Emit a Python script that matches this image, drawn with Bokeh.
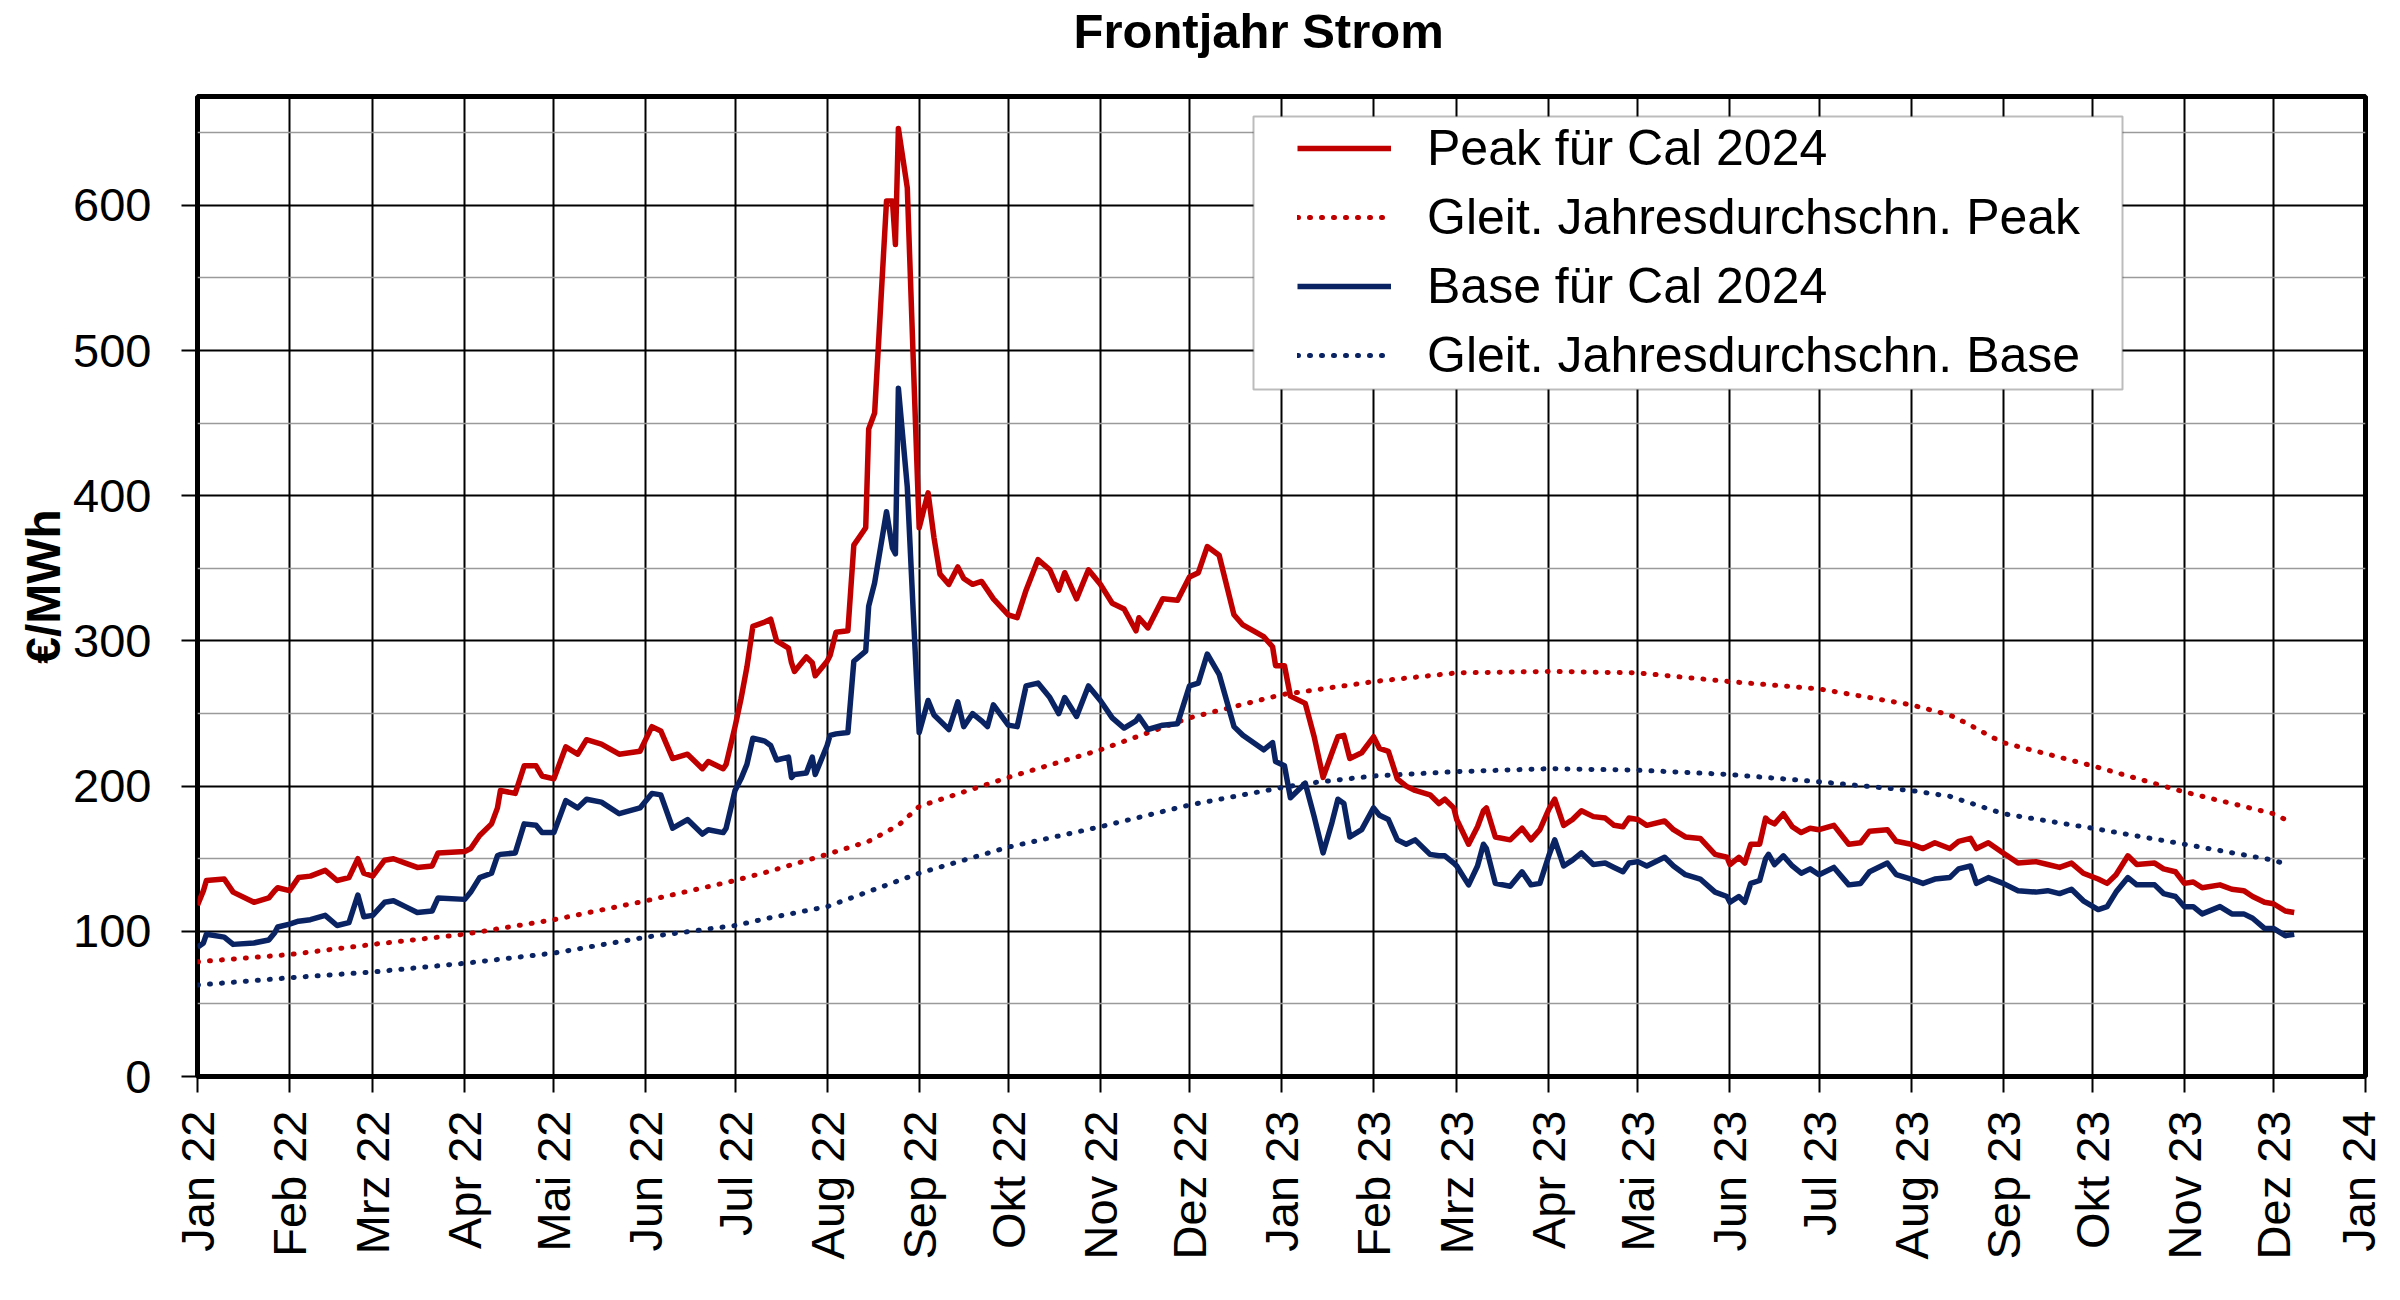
import math
import pandas as pd
from bokeh.plotting import figure
from bokeh.models import (FixedTicker, Legend, LegendItem, BoxAnnotation,
                          Range1d, ColumnDataSource)
from bokeh.embed import file_html
from bokeh.resources import INLINE

FONT = "Liberation Sans"
RED = "#C00000"
BLUE = "#0A2463"

# ---------------- data ----------------
title_text = "Frontjahr Strom"
y_label = "€/MWh"

month_ticks = ["2022-01-01", "2022-02-01", "2022-03-01", "2022-04-01", "2022-05-01",
               "2022-06-01", "2022-07-01", "2022-08-01", "2022-09-01", "2022-10-01",
               "2022-11-01", "2022-12-01", "2023-01-01", "2023-02-01", "2023-03-01",
               "2023-04-01", "2023-05-01", "2023-06-01", "2023-07-01", "2023-08-01",
               "2023-09-01", "2023-10-01", "2023-11-01", "2023-12-01", "2024-01-01"]
month_labels = ["Jan 22", "Feb 22", "Mrz 22", "Apr 22", "Mai 22", "Jun 22", "Jul 22",
                "Aug 22", "Sep 22", "Okt 22", "Nov 22", "Dez 22", "Jan 23", "Feb 23",
                "Mrz 23", "Apr 23", "Mai 23", "Jun 23", "Jul 23", "Aug 23", "Sep 23",
                "Okt 23", "Nov 23", "Dez 23", "Jan 24"]

y_ticks = [0, 100, 200, 300, 400, 500, 600]
y_minor = [50, 150, 250, 350, 450, 550, 650]

trade_dates = [
    "2022-01-01", "2022-01-03", "2022-01-04", "2022-01-10", "2022-01-13", "2022-01-20",
    "2022-01-25", "2022-01-27", "2022-01-28", "2022-02-01", "2022-02-04", "2022-02-08",
    "2022-02-13", "2022-02-17", "2022-02-21", "2022-02-24", "2022-02-26", "2022-03-01",
    "2022-03-05", "2022-03-08", "2022-03-12", "2022-03-16", "2022-03-21", "2022-03-23",
    "2022-04-01", "2022-04-03", "2022-04-06", "2022-04-10", "2022-04-12", "2022-04-13",
    "2022-04-18", "2022-04-21", "2022-04-25", "2022-04-27", "2022-05-01", "2022-05-05",
    "2022-05-09", "2022-05-12", "2022-05-17", "2022-05-23", "2022-05-30", "2022-06-03",
    "2022-06-06", "2022-06-10", "2022-06-15", "2022-06-20", "2022-06-22", "2022-06-27",
    "2022-06-28", "2022-07-01", "2022-07-03", "2022-07-05", "2022-07-07", "2022-07-11",
    "2022-07-13", "2022-07-15", "2022-07-19", "2022-07-20", "2022-07-21", "2022-07-25",
    "2022-07-27", "2022-07-28", "2022-08-01", "2022-08-02", "2022-08-04", "2022-08-08",
    "2022-08-10", "2022-08-14", "2022-08-15", "2022-08-17", "2022-08-21", "2022-08-23",
    "2022-08-24", "2022-08-25", "2022-08-28", "2022-08-30", "2022-09-01", "2022-09-04",
    "2022-09-06", "2022-09-08", "2022-09-11", "2022-09-14", "2022-09-16", "2022-09-19",
    "2022-09-22", "2022-09-24", "2022-09-26", "2022-10-01", "2022-10-04", "2022-10-07",
    "2022-10-11", "2022-10-15", "2022-10-18", "2022-10-20", "2022-10-24", "2022-10-28",
    "2022-11-01", "2022-11-05", "2022-11-09", "2022-11-13", "2022-11-14", "2022-11-17",
    "2022-11-22", "2022-11-27", "2022-12-01", "2022-12-04", "2022-12-07", "2022-12-11",
    "2022-12-16", "2022-12-19", "2022-12-26", "2022-12-29", "2022-12-30", "2023-01-02",
    "2023-01-04", "2023-01-09", "2023-01-12", "2023-01-15", "2023-01-18", "2023-01-20",
    "2023-01-22", "2023-01-24", "2023-01-28", "2023-02-01", "2023-02-03", "2023-02-06",
    "2023-02-09", "2023-02-12", "2023-02-15", "2023-02-20", "2023-02-23", "2023-02-25",
    "2023-02-28", "2023-03-01", "2023-03-05", "2023-03-08", "2023-03-10", "2023-03-11",
    "2023-03-14", "2023-03-19", "2023-03-23", "2023-03-26", "2023-03-29", "2023-04-01",
    "2023-04-03", "2023-04-06", "2023-04-09", "2023-04-12", "2023-04-16", "2023-04-20",
    "2023-04-23", "2023-04-26", "2023-04-28", "2023-05-01", "2023-05-04", "2023-05-10",
    "2023-05-13", "2023-05-17", "2023-05-22", "2023-05-27", "2023-05-31", "2023-06-01",
    "2023-06-04", "2023-06-06", "2023-06-08", "2023-06-11", "2023-06-13", "2023-06-14",
    "2023-06-16", "2023-06-19", "2023-06-22", "2023-06-25", "2023-06-28", "2023-07-01",
    "2023-07-06", "2023-07-11", "2023-07-15", "2023-07-18", "2023-07-24", "2023-07-27",
    "2023-08-01", "2023-08-05", "2023-08-09", "2023-08-14", "2023-08-17", "2023-08-21",
    "2023-08-23", "2023-08-27", "2023-09-01", "2023-09-06", "2023-09-12", "2023-09-16",
    "2023-09-20", "2023-09-24", "2023-09-28", "2023-10-03", "2023-10-06", "2023-10-09",
    "2023-10-13", "2023-10-16", "2023-10-22", "2023-10-25", "2023-10-29", "2023-11-01",
    "2023-11-04", "2023-11-07", "2023-11-13", "2023-11-17", "2023-11-21", "2023-11-24",
    "2023-11-28", "2023-12-01", "2023-12-05", "2023-12-08"]

peak_cal24 = [
    118, 128, 135, 136, 127, 120, 123, 128, 130, 128, 137, 138,
    142, 135, 137, 150, 140, 138, 149, 150, 147, 144, 145, 154,
    155, 157, 166, 174, 185, 197, 195, 214, 214, 207, 205, 227,
    222, 232, 229, 222, 224, 241, 238, 219, 222, 212, 217, 212,
    215, 241, 260, 282, 310, 313, 315, 300, 295, 285, 279, 289,
    285, 276, 286, 290, 306, 307, 366, 378, 446, 457, 603, 603,
    573, 653, 612, 494, 378, 402, 371, 346, 339, 351, 343, 339,
    341, 335, 329, 318, 316, 335, 356, 349, 335, 347, 329, 349,
    339, 326, 322, 307, 316, 309, 329, 328, 344, 347, 365, 359,
    318, 311, 303, 296, 283, 283, 262, 257, 234, 206, 223, 234,
    235, 219, 223, 234, 226, 224, 205, 200, 197, 194, 188, 191,
    185, 177, 160, 172, 183, 185, 165, 163, 171, 163, 170, 184,
    191, 173, 177, 183, 179, 178, 173, 172, 178, 177, 173, 176,
    170, 165, 164, 153, 151, 146, 151, 147, 160, 160, 178, 176,
    174, 181, 172, 168, 171, 170, 173, 160, 161, 169, 170, 162,
    160, 157, 161, 157, 162, 164, 157, 161, 154, 147, 148, 146,
    144, 147, 140, 136, 133, 139, 152, 146, 147, 143, 141, 133,
    134, 130, 132, 129, 128, 124, 120, 119, 114, 113]

base_cal24 = [
    89, 92, 98, 96, 91, 92, 94, 99, 103, 105, 107, 108,
    111, 104, 106, 125, 110, 111, 120, 121, 117, 113, 114, 123,
    122, 127, 137, 140, 152, 153, 154, 174, 173, 168, 168, 190,
    185, 191, 189, 181, 185, 195, 194, 171, 177, 167, 170, 168,
    171, 197, 205, 215, 233, 231, 228, 218, 220, 206, 208, 209,
    220, 208, 228, 235, 236, 237, 286, 293, 324, 340, 389, 364,
    360, 474, 406, 320, 237, 259, 249, 245, 239, 258, 241, 250,
    245, 241, 256, 242, 241, 269, 271, 261, 250, 261, 248, 269,
    259, 247, 240, 245, 248, 239, 242, 243, 269, 271, 291, 277,
    241, 235, 225, 230, 217, 214, 192, 202, 179, 154, 175, 191,
    188, 165, 170, 185, 180, 177, 163, 160, 163, 153, 152, 152,
    147, 145, 132, 145, 160, 157, 133, 131, 141, 132, 133, 152,
    163, 145, 149, 154, 146, 147, 144, 141, 147, 148, 145, 151,
    145, 139, 136, 127, 124, 120, 124, 120, 133, 135, 150, 153,
    146, 152, 145, 140, 143, 139, 144, 132, 133, 141, 147, 139,
    136, 133, 136, 137, 143, 145, 133, 137, 133, 128, 127, 128,
    126, 129, 121, 115, 117, 127, 137, 132, 132, 126, 124, 117,
    117, 112, 117, 112, 112, 109, 102, 102, 97, 98]

avg_peak_dates = ["2022-01-01", "2022-02-01", "2022-03-01", "2022-04-01", "2022-05-01",
                  "2022-06-01", "2022-07-01", "2022-07-12", "2022-08-01", "2022-08-15",
                  "2022-08-25", "2022-09-01", "2022-10-01", "2022-11-01", "2022-12-01",
                  "2023-01-01", "2023-02-01", "2023-03-01", "2023-04-01", "2023-05-01",
                  "2023-06-01", "2023-07-01", "2023-08-01", "2023-08-14", "2023-08-20",
                  "2023-08-28", "2023-09-01", "2023-10-01", "2023-11-01", "2023-12-01",
                  "2023-12-07"]
avg_peak = [79, 84, 91, 98, 108, 121, 135, 141, 153, 162, 173, 186, 206, 225, 247,
            263, 272, 278, 279, 278, 272, 267, 256, 249, 243, 234, 230, 214, 196, 181, 175]

avg_base_dates = ["2022-01-01", "2022-02-01", "2022-03-01", "2022-04-01", "2022-05-01",
                  "2022-06-01", "2022-07-01", "2022-07-12", "2022-08-01", "2022-09-01",
                  "2022-10-01", "2022-11-01", "2022-12-01", "2023-01-01", "2023-01-10",
                  "2023-02-01", "2023-03-01", "2023-04-01", "2023-05-01", "2023-06-01",
                  "2023-07-01", "2023-08-01", "2023-08-14", "2023-09-01", "2023-10-01",
                  "2023-11-01", "2023-12-01", "2023-12-04"]
avg_base = [63, 68, 72, 78, 85, 96, 104, 109, 117, 140, 158, 172, 187, 199, 202,
            207, 210, 212, 211, 208, 203, 197, 193, 181, 171, 160, 149, 147]

legend_labels = ["Peak für Cal 2024", "Gleit. Jahresdurchschn. Peak",
                 "Base für Cal 2024", "Gleit. Jahresdurchschn. Base"]

# ---------------- figure ----------------
ticks_dt = pd.to_datetime(month_ticks)
tick_ms = [float(t.value // 10**6) for t in ticks_dt]

p = figure(width=2384, height=1284, x_axis_type="datetime",
           output_backend="svg", toolbar_location=None,
           x_range=Range1d(tick_ms[0], tick_ms[-1]),
           y_range=Range1d(0, 675),
           min_border_left=197, min_border_right=19,
           min_border_top=96, min_border_bottom=208)

p.background_fill_color = "white"
p.border_fill_color = "white"
p.outline_line_color = "black"
p.outline_line_width = 5

p.title.text = title_text
p.title.text_font = FONT
p.title.text_font_size = "49px"
p.title.text_font_style = "bold"
p.title.text_color = "black"
p.title.align = "left"
p.title.offset = 876
p.title.vertical_align = "top"
p.title.standoff = 0
p.title.padding = dict(left=0, right=0, top=3, bottom=37)

xt = FixedTicker(ticks=tick_ms)
yt = FixedTicker(ticks=y_ticks, minor_ticks=y_minor)

p.xaxis.ticker = xt
p.xaxis.major_label_overrides = {t: l for t, l in zip(tick_ms, month_labels)}
p.xaxis.major_label_orientation = math.pi / 2
p.yaxis.ticker = yt
p.yaxis.axis_label = y_label
p.yaxis.axis_label_text_font = FONT
p.yaxis.axis_label_text_font_size = "48px"
p.yaxis.axis_label_text_font_style = "bold"
p.yaxis.axis_label_text_color = "black"
p.yaxis.axis_label_standoff = 0

for ax in (p.xaxis, p.yaxis):
    ax.axis_line_color = None
    ax.major_tick_line_color = "black"
    ax.major_tick_line_width = 2
    ax.major_tick_in = 0
    ax.major_tick_out = 16
    ax.minor_tick_line_color = None
    ax.major_label_text_font = FONT
    ax.major_label_text_font_size = "47px"
    ax.major_label_text_color = "black"
p.xaxis.major_label_standoff = 18
p.yaxis.major_label_standoff = 30

p.xgrid.ticker = xt
p.xgrid.grid_line_color = "black"
p.xgrid.grid_line_width = 2
p.ygrid.ticker = yt
p.ygrid.grid_line_color = "black"
p.ygrid.grid_line_width = 2
p.ygrid.minor_grid_line_color = "#9a9a9a"
p.ygrid.minor_grid_line_width = 1.5

src = ColumnDataSource(dict(date=pd.to_datetime(trade_dates), peak=peak_cal24, base=base_cal24))
src_ap = ColumnDataSource(dict(date=pd.to_datetime(avg_peak_dates), v=avg_peak))
src_ab = ColumnDataSource(dict(date=pd.to_datetime(avg_base_dates), v=avg_base))

r_ap = p.line("date", "v", source=src_ap, line_color=RED, line_width=5,
              line_dash="1 11", line_cap="round")
r_ab = p.line("date", "v", source=src_ab, line_color=BLUE, line_width=5,
              line_dash="1 11", line_cap="round")
r_peak = p.line("date", "peak", source=src, line_color=RED, line_width=5.5, line_join="round")
r_base = p.line("date", "base", source=src, line_color=BLUE, line_width=5.5, line_join="round")

box = BoxAnnotation(left=1056, right=1925, bottom=687, top=960,
                    left_units="screen", right_units="screen",
                    top_units="screen", bottom_units="screen",
                    fill_color="white", fill_alpha=1.0,
                    line_color="#222222", line_width=2)
p.add_layout(box)

legend = Legend(items=[
    LegendItem(label=legend_labels[0], renderers=[r_peak]),
    LegendItem(label=legend_labels[1], renderers=[r_ap]),
    LegendItem(label=legend_labels[2], renderers=[r_base]),
    LegendItem(label=legend_labels[3], renderers=[r_ab]),
], location=(1095, 687), padding=5, spacing=11, margin=0,
    glyph_width=94, glyph_height=58, label_height=58, label_standoff=36,
    label_text_font=FONT, label_text_font_size="50px", label_text_color="black",
    background_fill_alpha=0, border_line_alpha=0)
p.add_layout(legend)

open("out.html", "w").write(file_html(p, INLINE))
